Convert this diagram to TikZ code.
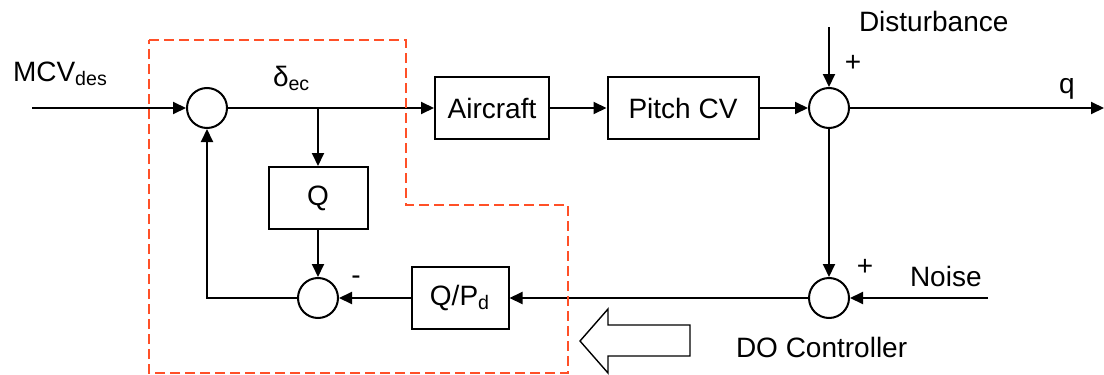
\documentclass[tikz,border=0pt]{standalone}
\usepackage{fontspec}
\setmainfont{Liberation Sans}
\usetikzlibrary{arrows.meta, positioning}
\definecolor{loopred}{RGB}{255,80,40}

\begin{document}
\begin{tikzpicture}[x=0.5pt, y=-0.5pt, line width=1pt,
    font=\fontsize{14}{16}\selectfont,
    sumnode/.style={draw, circle, minimum size=20pt, inner sep=0pt},
    block/.style={draw, rectangle, minimum height=31pt, inner sep=0pt},
    sig/.style={-{Triangle[length=6.5pt, width=6pt]}},
    sign/.style={inner sep=0pt}]
    \useasboundingbox (0,0) rectangle (1104,375);

    % Forward path
    \coordinate (in) at (32,108);
    \node[sumnode] (s1) at (207,108) {};
    \node[block, minimum width=57pt] (air) at (492,108) {Aircraft};
    \node[block, minimum width=75.5pt] (pcv) at (683,108) {Pitch CV};
    \node[sumnode] (s2) at (829,108) {};
    \coordinate (out) at (1104,108);
    \node[anchor=base west, inner sep=0pt] (mcv) at (12,81) {MCV\textsubscript{des}};
    \node[anchor=base west, inner sep=0pt] (dec) at (272,86) {δ\textsubscript{ec}};
    \node[anchor=base, inner sep=0pt] (q) at (1067,93) {q};

    \draw[sig] (in) -- (s1);
    \draw[sig] (s1) -- (air);
    \draw[sig] (air) -- (pcv);
    \draw[sig] (pcv) -- (s2);
    \draw[sig] (s2) -- (out);

    % Disturbance input
    \coordinate (dist) at (829,27);
    \node[anchor=base west, inner sep=0pt] (distlbl) at (858,32) {Disturbance};
    \node[sign] (p1) at (853,63) {+};
    \draw[sig] (dist) -- (s2);

    % DO controller
    \node[sumnode] (s3) at (829,298) {};
    \coordinate (noise) at (988,298);
    \node[anchor=base west, inner sep=0pt] (noiselbl) at (909,286) {Noise};
    \node[sign] (p2) at (865,267) {+};
    \node[anchor=base west, inner sep=0pt] (dolbl) at (735,357) {DO Controller};
    \node[block, minimum width=48.5pt] (qpd) at (460,298) {Q/P\textsubscript{d}};
    \node[block, minimum width=49.5pt] (qbox) at (318,198) {Q};
    \node[sumnode] (s4) at (318,298) {};
    \node[sign] (m1) at (356,280) {-};
    \coordinate (br) at (318,108);

    \draw[sig] (s2) -- (s3);
    \draw[sig] (noise) -- (s3);
    \draw[sig] (s3) -- (qpd);
    \draw[sig] (qpd) -- (s4);
    \draw[sig] (br) -- (qbox);
    \draw[sig] (qbox) -- (s4);
    \draw[sig] (s4.west) -| (s1.south);

    % Dashed boundary and hollow arrow
    \draw[loopred, line width=0.8pt, dash pattern=on 5pt off 2.5pt]
        (149,40) -- (406,40) -- (406,205) -- (568,205) -- (568,373) -- (149,373) -- cycle;
    \draw[line width=0.7pt] (580,341) -- (608,309) -- (608,325) -- (690,325)
        -- (690,356) -- (608,356) -- (608,373) -- cycle;
\end{tikzpicture}
\end{document}
